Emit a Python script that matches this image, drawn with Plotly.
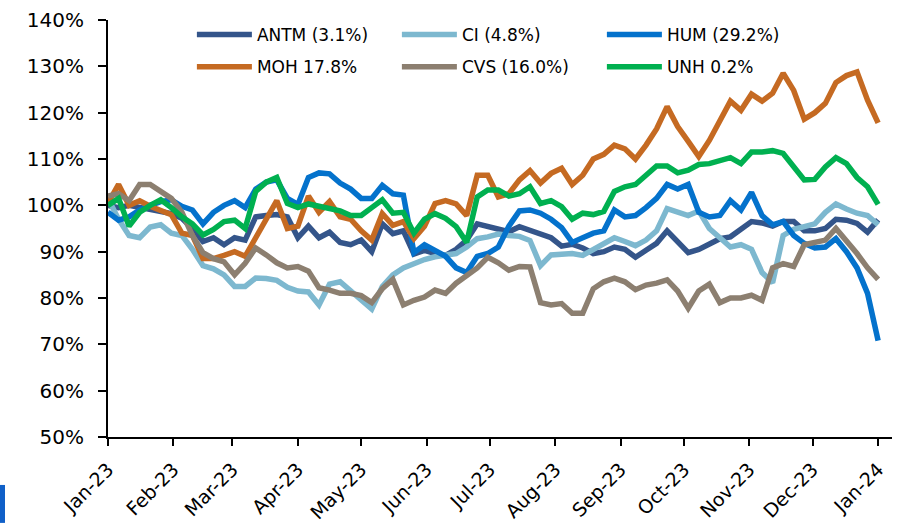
import pandas as pd
import plotly.graph_objects as go

# 5-day sampling grid, Jan-2023 .. Jan-2024
dates = pd.date_range("2023-01-01", periods=74, freq="5D")

ANTM = [100.0, 99.5, 100.0, 99.5, 99.0, 98.8, 98.2, 97.2, 95.0, 92.2,
        93.0, 91.5, 93.0, 92.5, 97.5, 97.8, 98.0, 97.5, 93.0, 95.5,
        93.0, 94.2, 92.0, 91.5, 92.5, 90.0, 96.0, 93.9, 94.5, 89.5,
        90.3, 89.6, 89.2, 90.5, 92.5, 96.0, 95.4, 94.8, 94.3, 95.4,
        94.6, 94.0, 93.0, 91.2, 91.6, 90.8, 89.6, 90.0, 91.0, 90.5,
        88.8, 90.3, 91.8, 94.5, 92.0, 89.8, 90.5, 91.8, 92.8, 93.2,
        94.8, 96.5, 96.2, 95.5, 96.5, 96.5, 94.5, 94.5, 95.0, 97.0,
        96.8, 96.1, 94.2, 96.9]

CI = [101.5, 97.0, 93.5, 93.0, 95.3, 95.8, 94.0, 93.5, 90.5, 87.0,
      86.3, 85.0, 82.5, 82.5, 84.3, 84.2, 83.8, 82.3, 81.5, 81.3,
      78.5, 83.0, 83.5, 81.5, 79.5, 77.6, 82.5, 85.0, 86.5, 87.5,
      88.3, 88.9, 89.3, 89.6, 91.0, 92.8, 93.2, 93.8, 93.5, 93.3,
      92.4, 87.0, 89.3, 89.5, 89.6, 89.2, 90.5, 91.8, 93.0, 92.2,
      91.3, 92.5, 94.5, 99.3, 98.5, 97.8, 98.8, 95.0, 93.0, 91.0,
      91.5, 90.5, 85.5, 83.3, 93.5, 94.8, 95.4, 96.0, 98.5, 100.3,
      99.2, 98.3, 97.8, 95.8]

HUM = [98.5, 96.8, 97.5, 99.0, 100.0, 100.8, 101.2, 99.8, 99.0, 96.0,
       98.5, 100.0, 101.0, 99.5, 103.5, 105.0, 105.5, 101.5, 100.2, 106.0,
       107.0, 106.8, 104.8, 103.5, 101.5, 101.5, 104.3, 102.5, 102.2, 89.8,
       91.5, 90.3, 89.0, 86.5, 85.5, 89.0, 89.6, 91.0, 95.5, 98.8,
       99.0, 98.3, 97.0, 95.2, 92.0, 93.0, 94.0, 94.5, 99.0, 97.5,
       97.8, 99.5, 101.5, 104.5, 103.5, 104.5, 98.5, 97.5, 97.8, 101.0,
       99.0, 102.8, 97.8, 95.8, 96.5, 93.5, 91.8, 90.8, 91.0, 92.8,
       90.0, 86.5, 81.0, 70.8]

MOH = [100.5, 104.5, 100.0, 101.0, 99.8, 99.0, 98.0, 94.0, 93.5, 88.5,
       88.5, 89.2, 90.0, 89.0, 93.0, 97.0, 101.0, 95.0, 95.5, 102.0,
       98.5, 100.8, 97.5, 97.0, 94.5, 92.5, 98.2, 95.7, 96.5, 92.8,
       95.5, 100.4, 101.0, 100.3, 97.8, 106.5, 106.5, 101.8, 102.5, 105.5,
       107.5, 104.8, 106.9, 108.0, 104.5, 106.5, 110.0, 111.0, 113.0, 112.2,
       110.0, 113.0, 116.5, 121.3, 117.0, 113.8, 110.5, 114.0, 118.4, 122.5,
       120.5, 124.0, 122.5, 124.2, 128.5, 124.8, 118.6, 120.0, 122.0, 126.5,
       128.0, 128.8, 122.7, 117.8]

CVS = [102.0, 102.5, 101.0, 104.5, 104.5, 103.0, 101.5, 98.5, 93.5, 89.8,
       88.5, 87.8, 85.0, 87.5, 90.8, 89.3, 87.6, 86.5, 86.8, 85.8,
       82.2, 81.7, 81.0, 81.0, 80.5, 79.0, 82.0, 84.0, 78.5, 79.5,
       80.2, 81.7, 81.0, 83.2, 84.8, 86.5, 88.8, 87.6, 86.0, 86.8,
       86.7, 79.0, 78.5, 78.8, 76.7, 76.7, 82.0, 83.5, 84.3, 83.5,
       81.8, 82.8, 83.2, 83.9, 81.5, 77.8, 81.5, 83.0, 79.0, 80.0,
       80.0, 80.6, 79.5, 86.5, 87.4, 86.8, 91.5, 92.0, 92.5, 95.0,
       92.5, 89.6, 86.5, 84.0]

UNH = [100.0, 101.5, 95.5, 98.5, 100.0, 101.2, 99.5, 97.5, 96.0, 93.6,
       94.8, 96.5, 96.8, 95.0, 103.0, 105.0, 106.0, 100.4, 99.5, 100.3,
       99.8, 99.3, 98.8, 97.8, 97.8, 99.5, 101.2, 98.3, 98.5, 94.0,
       97.0, 98.2, 97.2, 95.4, 92.0, 101.8, 103.3, 103.3, 102.0, 102.5,
       104.0, 100.4, 101.0, 99.7, 97.0, 98.3, 98.0, 98.7, 103.0, 104.0,
       104.5, 106.5, 108.5, 108.5, 107.0, 107.6, 108.8, 109.0, 109.8, 110.3,
       109.0, 111.5, 111.5, 111.8, 111.2, 108.3, 105.5, 105.6, 108.3, 110.3,
       109.0, 106.0, 104.0, 100.2]

series_names = ["ANTM (3.1%)", "CI (4.8%)", "HUM (29.2%)", "MOH 17.8%", "CVS (16.0%)", "UNH 0.2%"]
series_values = [ANTM, CI, HUM, MOH, CVS, UNH]
series_colors = ["#34558A", "#7DB8CF", "#0472CC", "#C56A22", "#8C7F70", "#00B050"]
series_legend = ["legend", "legend", "legend", "legend2", "legend2", "legend2"]

fig = go.Figure()
for name, vals, col, lg in zip(series_names, series_values, series_colors, series_legend):
    fig.add_trace(go.Scatter(
        x=dates, y=vals, mode="lines", name=name, legend=lg,
        line=dict(color=col, width=5.5), hoverinfo="skip",
    ))

legend_common = dict(
    orientation="h", xanchor="left", yanchor="middle",
    entrywidth=135, entrywidthmode="pixels", itemwidth=55,
    font=dict(family="DejaVu Sans", size=17, color="#000000"),
    bgcolor="rgba(0,0,0,0)",
)

fig.update_layout(
    width=899, height=523,
    margin=dict(l=108, r=7, t=20, b=86, autoexpand=False),
    paper_bgcolor="white", plot_bgcolor="white",
    font=dict(family="DejaVu Sans", size=19, color="#000000"),
    showlegend=True,
    legend=dict(x=0.107, y=0.964, **legend_common),
    legend2=dict(x=0.107, y=0.887, **legend_common),
    xaxis=dict(
        range=["2023-01-01", "2024-01-07 14:00"],
        tick0="2023-01-01", dtick="M1", tickformat="%b-%y",
        tickangle=-45, ticks="outside", ticklen=7, tickwidth=2, tickcolor="#000",
        showline=True, linecolor="#000", linewidth=2,
        showgrid=False, zeroline=False, automargin=False,
        tickfont=dict(family="DejaVu Sans", size=19, color="#000"),
        ticklabelstandoff=5,
    ),
    yaxis=dict(
        range=[50, 140], dtick=10, ticksuffix="%",
        ticks="outside", ticklen=8, tickwidth=2, tickcolor="#000",
        showline=True, linecolor="#000", linewidth=2,
        showgrid=False, zeroline=False, automargin=False,
        tickfont=dict(family="DejaVu Sans", size=20, color="#000"),
        ticklabelstandoff=10,
    ),
    shapes=[dict(type="rect", xref="paper", yref="paper",
                 x0=-0.1378, x1=-0.1314, y0=-0.206, y1=-0.115,
                 fillcolor="#1060C8", line=dict(width=0))],
)

fig.write_html("out.html", config={"displayModeBar": False},
               post_script="document.body.style.margin='0';")
